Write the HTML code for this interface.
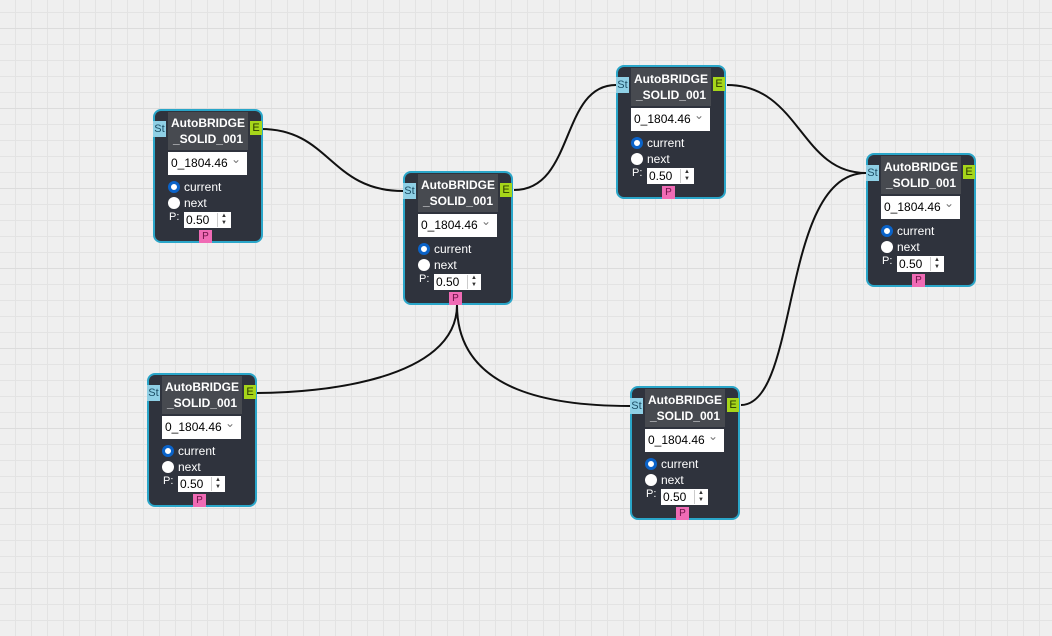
<!DOCTYPE html>
<html><head><meta charset="utf-8"><style>
body{margin:0;width:1052px;height:636px;overflow:hidden;font-family:"Liberation Sans",sans-serif;
background-color:#efefef;
background-image:linear-gradient(#dcdcdc 1px,transparent 1px),linear-gradient(#e3e3e3 1px,transparent 1px),linear-gradient(90deg,#e3e3e3 1px,transparent 1px);
background-size:100% 80px,16px 16px,16px 16px;background-position:0 28px,0 12px,15px 0;position:relative}
.n{position:absolute;width:106px;height:130px;background:#2f333d;border:2px solid #2aa6c9;border-radius:8px}
.t{position:absolute;left:13px;top:1px;width:80px;height:38px;background:#474a50;color:#fff;font-weight:bold;font-size:12px;text-align:center;line-height:16px;padding-top:3px;box-sizing:border-box}
.st{position:absolute;left:-2px;top:10px;width:13px;height:16px;background:#8fd0e6;color:#1d4f66;font-size:11px;line-height:16px;text-align:center;overflow:hidden}
.e{position:absolute;right:-1px;top:10px;width:12px;height:14px;background:#a6d61a;color:#2a3a00;font-size:11px;line-height:14px;text-align:center}
.dd{position:absolute;left:13px;top:41px;width:79px;height:23px;background:#fff;font-size:12px;line-height:23px;padding-left:3px;box-sizing:border-box;color:#000}
.dd:after{content:"⌄";position:absolute;right:6px;top:-4px;color:#777;font-size:12px}
.r{position:absolute;left:13px;color:#fff;font-size:12px;line-height:14px}
.r i{display:inline-block;width:12px;height:12px;border-radius:50%;background:#fff;vertical-align:-2px;margin-right:4px;box-sizing:border-box}
.r i.on{background:#fff;border:3px solid #0a63c9}
.p{position:absolute;left:14px;top:100px;color:#fff;font-size:11px}
.in{position:absolute;left:29px;top:101px;width:47px;height:16px;background:#fff;font-size:12px;line-height:16px;padding-left:2px;box-sizing:border-box;color:#000}
.sp{position:absolute;right:1px;top:1px;width:12px;height:14px;border-left:1px solid #ccc;font-size:6px;line-height:7px;color:#333;text-align:center}
.pp{position:absolute;left:44px;bottom:-2px;width:13px;height:13px;background:#f06bb5;color:#6b1146;font-size:10px;line-height:13px;text-align:center}
svg{position:absolute;left:0;top:0}
</style></head><body>
<svg width="1052" height="636"><g fill="none" stroke="#111" stroke-width="2">
<path d="M261,129 C330,129 330,191 403,191"/>
<path d="M514,190 C575,190 560,85 616,85"/>
<path d="M727,85 C800,85 800,173 866,173"/>
<path d="M457,305 C457,380 320,393 257,393"/>
<path d="M457,305 C457,395 560,406 630,406"/>
<path d="M741,405 C800,405 780,173 866,173"/>
</g></svg>
<div class="n" style="left:153px;top:109px"><div class="t">AutoBRIDGE<br>_SOLID_001</div><div class="st">St</div><div class="e">E</div><div class="dd">0_1804.46</div><div class="r" style="top:69px"><i class="on"></i>current</div><div class="r" style="top:85px"><i></i>next</div><div class="p">P:</div><div class="in">0.50<div class="sp">▲<br>▼</div></div><div class="pp">P</div></div>
<div class="n" style="left:403px;top:171px"><div class="t">AutoBRIDGE<br>_SOLID_001</div><div class="st">St</div><div class="e">E</div><div class="dd">0_1804.46</div><div class="r" style="top:69px"><i class="on"></i>current</div><div class="r" style="top:85px"><i></i>next</div><div class="p">P:</div><div class="in">0.50<div class="sp">▲<br>▼</div></div><div class="pp">P</div></div>
<div class="n" style="left:616px;top:65px"><div class="t">AutoBRIDGE<br>_SOLID_001</div><div class="st">St</div><div class="e">E</div><div class="dd">0_1804.46</div><div class="r" style="top:69px"><i class="on"></i>current</div><div class="r" style="top:85px"><i></i>next</div><div class="p">P:</div><div class="in">0.50<div class="sp">▲<br>▼</div></div><div class="pp">P</div></div>
<div class="n" style="left:866px;top:153px"><div class="t">AutoBRIDGE<br>_SOLID_001</div><div class="st">St</div><div class="e">E</div><div class="dd">0_1804.46</div><div class="r" style="top:69px"><i class="on"></i>current</div><div class="r" style="top:85px"><i></i>next</div><div class="p">P:</div><div class="in">0.50<div class="sp">▲<br>▼</div></div><div class="pp">P</div></div>
<div class="n" style="left:147px;top:373px"><div class="t">AutoBRIDGE<br>_SOLID_001</div><div class="st">St</div><div class="e">E</div><div class="dd">0_1804.46</div><div class="r" style="top:69px"><i class="on"></i>current</div><div class="r" style="top:85px"><i></i>next</div><div class="p">P:</div><div class="in">0.50<div class="sp">▲<br>▼</div></div><div class="pp">P</div></div>
<div class="n" style="left:630px;top:386px"><div class="t">AutoBRIDGE<br>_SOLID_001</div><div class="st">St</div><div class="e">E</div><div class="dd">0_1804.46</div><div class="r" style="top:69px"><i class="on"></i>current</div><div class="r" style="top:85px"><i></i>next</div><div class="p">P:</div><div class="in">0.50<div class="sp">▲<br>▼</div></div><div class="pp">P</div></div>
</body></html>
